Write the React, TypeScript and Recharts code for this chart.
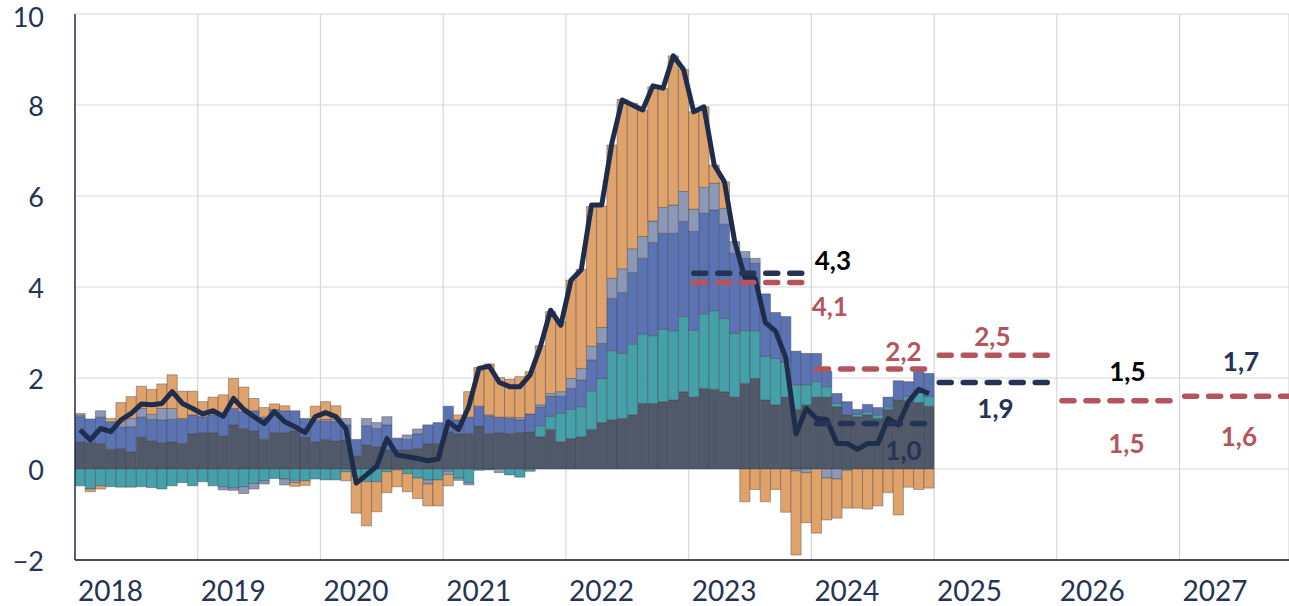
import React from "react";
import {
  ComposedChart,
  Bar,
  Line,
  XAxis,
  YAxis,
  CartesianGrid,
  ReferenceLine,
  ReferenceDot,
} from "recharts";

// monthly contributions, Jan 2018 .. Dec 2024 (p.p.)
const core = [
  0.6, 0.58, 0.56, 0.43, 0.45, 0.38, 0.7, 0.62, 0.58, 0.6, 0.56, 0.77,
  0.8, 0.8, 0.73, 0.97, 0.89, 0.84, 0.65, 0.8, 0.8, 0.84, 0.7, 0.6,
  0.65, 0.62, 0.64, 0.29, 0.53, 0.49, 0.42, 0.42, 0.42, 0.45, 0.55, 0.56,
  0.82, 0.77, 0.78, 0.95, 0.78, 0.8, 0.78, 0.8, 0.82, 0.71, 0.87, 0.6,
  0.67, 0.71, 0.87, 1.02, 1.08, 1.11, 1.19, 1.44, 1.44, 1.48, 1.52, 1.7,
  1.58, 1.77, 1.75, 1.7, 1.58, 1.88, 1.99, 1.52, 1.41, 1.58, 1.31, 1.41,
  1.58, 1.58, 1.37, 1.19, 1.15, 1.19, 1.11, 1.31, 1.52, 1.5, 1.46, 1.38,
];
const teal = [
  -0.37, -0.44, -0.37, -0.39, -0.4, -0.4, -0.39, -0.41, -0.44, -0.37, -0.3, -0.37,
  -0.28, -0.37, -0.39, -0.42, -0.39, -0.32, -0.26, -0.21, -0.22, -0.25, -0.26, -0.22,
  -0.24, -0.24, -0.06, -0.17, -0.28, -0.28, -0.06, 0, -0.1, -0.2, -0.24, -0.24,
  -0.05, -0.2, -0.3, -0.03, -0.02, 0, -0.13, -0.18, -0.05, 0.24, 0.29, 0.62,
  0.64, 0.66, 0.85, 0.97, 1.52, 1.43, 1.56, 1.53, 1.49, 1.59, 1.52, 1.65,
  1.47, 1.64, 1.73, 1.61, 1.4, 1.16, 1.05, 0.96, 1.02, 0.77, 0.54, 0.44,
  0.34, 0.23, 0.07, -0.03, 0.06, 0.07, 0.08, 0.06, 0, 0.1, 0.28, 0.22,
];
const blue = [
  0.55, 0.52, 0.58, 0.61, 0.47, 0.55, 0.44, 0.47, 0.5, 0.49, 0.55, 0.42,
  0.35, 0.39, 0.46, 0.36, 0.37, 0.44, 0.49, 0.51, 0.48, 0.44, 0.41, 0.44,
  0.4, 0.42, 0.33, 0.36, 0.42, 0.4, 0.55, 0.26, 0.23, 0.32, 0.42, 0.46,
  0.56, 0.31, 0.36, 0.43, 0.38, 0.34, 0.33, 0.28, 0.39, 0.41, 0.44, 0.38,
  0.46, 0.59, 0.68, 0.77, 1.15, 1.34, 1.57, 1.66, 2.05, 2.11, 2.14, 2.09,
  2.17, 2.21, 2.21, 2.07, 1.76, 1.59, 1.48, 1.37, 1.01, 1.0, 0.74, 0.69,
  0.62, 0.34, 0.22, 0.29, 0.1, 0.16, 0.16, 0.21, 0.42, 0.32, 0.46, 0.5,
];
const gray = [
  0.04, 0, 0.14, 0, 0.12, 0.18, 0.19, 0.11, 0.25, 0.24, 0, 0,
  0, 0, -0.07, -0.05, -0.15, -0.12, -0.07, 0, -0.13, -0.05, 0, 0.04,
  0.04, 0.05, 0.14, 0, 0.16, 0.13, 0.18, -0.02, 0.1, 0.11, -0.09, 0,
  -0.07, -0.05, -0.05, 0, 0.03, -0.08, 0.03, 0.05, 0, 0.05, 0.06, 0.1,
  0.22, 0.25, 0.3, 0.35, 0.44, 0.52, 0.52, 0.48, 0.47, 0.57, 0.62, 0.66,
  0.49, 0.57, 0.59, 0.35, 0.26, 0.15, 0.11, 0, 0, 0, -0.04, -0.08,
  0, -0.2, -0.22, 0, 0, 0, 0, 0, 0, 0, 0, 0,
];
const orange = [
  0.03, -0.06, -0.07, 0.07, 0.42, 0.48, 0.49, 0.55, 0.54, 0.74, 0.6, 0.52,
  0.33, 0.39, 0.44, 0.66, 0.54, 0.27, 0.21, 0.12, 0.11, -0.08, -0.1, 0.3,
  0.39, 0.3, -0.2, -0.8, -0.97, -0.66, -0.46, -0.37, -0.4, -0.45, -0.48, -0.57,
  -0.25, 0.11, 0.56, 0.85, 1.12, 0.87, 0.83, 0.9, 0.93, 1.3, 1.8, 1.54,
  2.16, 2.18, 3.07, 2.67, 2.93, 3.72, 3.2, 2.78, 2.95, 2.62, 3.28, 2.68,
  2.14, 1.77, 0.4, 0.58, 0, -0.72, -0.45, -0.72, -0.45, -0.95, -1.85, -1.1,
  -1.41, -0.92, -0.86, -0.83, -0.86, -0.88, -0.81, -0.52, -1.01, -0.4, -0.45, -0.42,
];
const cpi = [
  0.86, 0.64, 0.89, 0.82, 1.08, 1.22, 1.43, 1.41, 1.44, 1.7, 1.44, 1.33,
  1.21, 1.28, 1.16, 1.55, 1.31, 1.15, 1.0, 1.26, 1.04, 0.93, 0.8, 1.15,
  1.24, 1.15, 0.88, -0.31, -0.13, 0.06, 0.67, 0.31, 0.27, 0.23, 0.18, 0.22,
  1.04, 0.87, 1.37, 2.21, 2.26, 1.9, 1.81, 1.81, 2.07, 2.69, 3.49, 3.16,
  4.15, 4.38, 5.8, 5.8, 7.17, 8.11, 8.0, 7.89, 8.42, 8.37, 9.08, 8.78,
  7.85, 7.96, 6.68, 6.31, 5.0, 4.2, 4.19, 3.22, 3.03, 2.44, 0.77, 1.33,
  1.11, 1.09, 0.56, 0.56, 0.43, 0.56, 0.56, 1.11, 0.97, 1.48, 1.75, 1.66,
];

// annual forecasts
const fcYears = [2023, 2024, 2025, 2026, 2027];
const fcRed = [4.1, 2.2, 2.5, 1.5, 1.6];
const fcDark = [4.3, 1.0, 1.9, 1.5, 1.7];

// label anchors: x in months since Jan 2018, y in p.p.
const labels = [
  { text: "4,3", x: 74.1, y: 4.57, color: "#000000" },
  { text: "4,1", x: 73.8, y: 3.56, color: "#b5545c" },
  { text: "2,2", x: 81.0, y: 2.57, color: "#b5545c" },
  { text: "1,0", x: 81.0, y: 0.4, color: "#253354" },
  { text: "2,5", x: 89.7, y: 2.9, color: "#b5545c" },
  { text: "1,9", x: 90.0, y: 1.32, color: "#253354" },
  { text: "1,5", x: 102.9, y: 2.13, color: "#000000" },
  { text: "1,5", x: 102.8, y: 0.55, color: "#b5545c" },
  { text: "1,7", x: 114.0, y: 2.35, color: "#253354" },
  { text: "1,6", x: 113.8, y: 0.7, color: "#b5545c" },
];

const yearTicks = [0, 12, 24, 36, 48, 60, 72, 84, 96, 108];
const yTicks = [-2, 0, 2, 4, 6, 8, 10];

const NAVY = "#253354";
const RED = "#b5545c";
const FONT = "Lato, 'Open Sans', sans-serif";
const X_MAX = 118.7;

const data = core.map((v, i) => ({
  m: i + 0.5,
  core: v,
  teal: teal[i],
  blue: blue[i],
  gray: gray[i],
  orange: orange[i],
  cpi: cpi[i],
}));

const XTick = (props: any) => {
  const { x, y, payload } = props;
  return (
    <text x={x + 3} y={y + 41} textAnchor="start" fill={NAVY} fontSize={28} fontFamily={FONT}>
      {2018 + payload.value / 12}
    </text>
  );
};

const barStroke = "rgba(60,60,70,0.4)";

const segment = (year: number, value: number) => {
  const start = (year - 2018) * 12 + 0.5;
  const end = Math.min(start + 11, X_MAX);
  return [
    { x: start, y: value },
    { x: end, y: value },
  ];
};

export default function App() {
  return (
    <div style={{ position: "absolute", left: 0, top: 0, width: 1289, height: 606, overflow: "hidden", background: "#fff" }}>
      <ComposedChart
        width={1289}
        height={606}
        data={data}
        stackOffset="sign"
        margin={{ top: 14, right: 0, bottom: 0, left: 0 }}
      >
        <CartesianGrid stroke="#d6d7de" strokeWidth={1.2} />
        <XAxis
          dataKey="m"
          type="number"
          domain={[0, X_MAX]}
          allowDataOverflow
          ticks={yearTicks}
          tick={<XTick />}
          tickLine={false}
          tickSize={0}
          tickMargin={0}
          height={46}
          axisLine={{ stroke: "#1a1a1a", strokeWidth: 1.5 }}
        />
        <YAxis
          type="number"
          domain={[-2, 10]}
          allowDataOverflow
          ticks={yTicks}
          width={75}
          tickLine={false}
          tickSize={0}
          tickMargin={31}
          tickFormatter={(v: number) => (v < 0 ? `\u2212${-v}` : `${v}`)}
          tick={{ fill: NAVY, fontSize: 27, fontFamily: FONT, dy: 1.5 }}
          axisLine={{ stroke: NAVY, strokeWidth: 1.5 }}
        />
        <Bar dataKey="core" stackId="a" fill="#4f5969" stroke={barStroke} strokeWidth={1} barSize={10.2} isAnimationActive={false} />
        <Bar dataKey="teal" stackId="a" fill="#45a0aa" stroke={barStroke} strokeWidth={1} barSize={10.2} isAnimationActive={false} />
        <Bar dataKey="blue" stackId="a" fill="#5b73b3" stroke={barStroke} strokeWidth={1} barSize={10.2} isAnimationActive={false} />
        <Bar dataKey="gray" stackId="a" fill="#8d98b6" stroke={barStroke} strokeWidth={1} barSize={10.2} isAnimationActive={false} />
        <Bar dataKey="orange" stackId="a" fill="#e0a26b" stroke={barStroke} strokeWidth={1} barSize={10.2} isAnimationActive={false} />
        <Line
          dataKey="cpi"
          type="linear"
          stroke="#1f2d4d"
          strokeWidth={5}
          strokeLinejoin="round"
          dot={false}
          activeDot={false}
          isAnimationActive={false}
        />
        {/* dark forecast lines for 2026-27 sit under the red ones, so only the first three are drawn */}
        {fcYears.slice(0, 3).map((yr, i) => (
          <ReferenceLine
            key={`d${yr}`}
            segment={segment(yr, fcDark[i])}
            stroke={NAVY}
            strokeWidth={5.5}
            strokeDasharray="12 12"
            strokeLinecap="round"
            ifOverflow="visible"
          />
        ))}
        {fcYears.map((yr, i) => (
          <ReferenceLine
            key={`r${yr}`}
            segment={segment(yr, fcRed[i])}
            stroke={RED}
            strokeWidth={5.5}
            strokeDasharray="12 12"
            strokeLinecap="round"
            ifOverflow="visible"
          />
        ))}
        {labels.map((l, i) => (
          <ReferenceDot
            key={`l${i}`}
            x={l.x}
            y={l.y}
            r={0}
            fill="none"
            stroke="none"
            ifOverflow="visible"
            label={{
              value: l.text,
              position: "center",
              fill: l.color,
              fontSize: 26,
              fontWeight: 700,
              fontFamily: FONT,
            }}
          />
        ))}
      </ComposedChart>
    </div>
  );
}
